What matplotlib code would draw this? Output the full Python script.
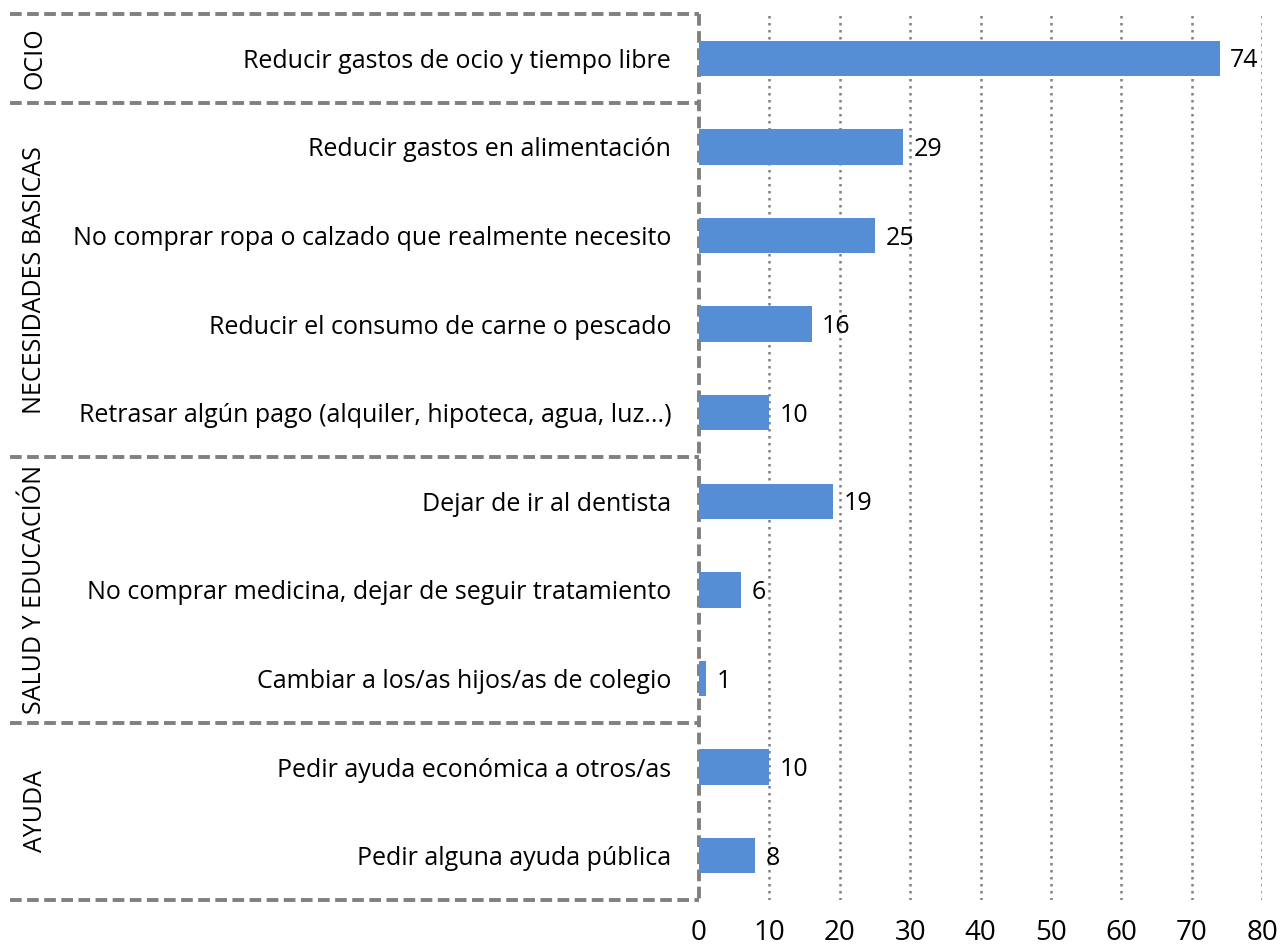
import numpy as np
import matplotlib
matplotlib.use("Agg")
import matplotlib.pyplot as plt
from matplotlib.transforms import blended_transform_factory

plt.rcParams.update({'font.family': ['Open Sans', 'DejaVu Sans'], 'font.size': 18})

# data
labels = ["Reducir gastos de ocio y tiempo libre",
          "Reducir gastos en alimentación",
          "No comprar ropa o calzado que realmente necesito",
          "Reducir el consumo de carne o pescado",
          "Retrasar algún pago (alquiler, hipoteca, agua, luz...)",
          "Dejar de ir al dentista",
          "No comprar medicina, dejar de seguir tratamiento",
          "Cambiar a los/as hijos/as de colegio",
          "Pedir ayuda económica a otros/as",
          "Pedir alguna ayuda pública"]
values = [74, 29, 25, 16, 10, 19, 6, 1, 10, 8]
groups = ["OCIO", "NECESIDADES BASICAS", "SALUD Y EDUCACIÓN", "AYUDA"]
group_sizes = [1, 4, 3, 2]

bar_color = "#558ED5"
gray = "#808080"

fig = plt.figure(figsize=(12.81, 9.51), dpi=100)
ax = fig.add_axes([699/1281, 1 - 900/951, (1262 - 699)/1281, (900 - 14)/951])

y = np.arange(len(labels))
ax.barh(y, values, height=0.4, color=bar_color, zorder=3)
for yi, v in zip(y, values):
    ax.text(v + 1.5, yi + 0.03, str(v), va="center", ha="left", fontsize=18)

ax.set_xlim(0, 80)
ax.set_ylim(len(labels) - 0.5, -0.5)
ax.set_xticks(range(0, 81, 10))
ax.set_yticks(y)
ax.set_yticklabels(labels)
ax.tick_params(axis="y", length=0, pad=20)
ax.tick_params(axis="x", length=0, pad=14, labelsize=20)
for s in ax.spines.values():
    s.set_visible(False)
for xv in range(10, 81, 10):
    ax.axvline(xv, color=gray, lw=1.8, linestyle=(0, (1, 1.8)), zorder=1)

# group boxes
trans = blended_transform_factory(fig.transFigure, ax.transData)
x_left = 10 / 1281
x_right = 699 / 1281
dash = dict(color=gray, lw=2.8, linestyle=(0, (3.0, 1.4)), transform=trans, clip_on=False)
bounds = np.concatenate([[0], np.cumsum(group_sizes)]) - 0.5
for b in bounds:
    ax.plot([x_left, x_right], [b, b], **dash)
ax.plot([x_right, x_right], [bounds[0], bounds[-1]], **dash)
for g, lo, hi in zip(groups, bounds[:-1], bounds[1:]):
    ax.text(35 / 1281, (lo + hi) / 2, g, rotation=90, va="center", ha="center",
            fontsize=18, transform=trans)

fig.savefig("out.png", dpi=100)
